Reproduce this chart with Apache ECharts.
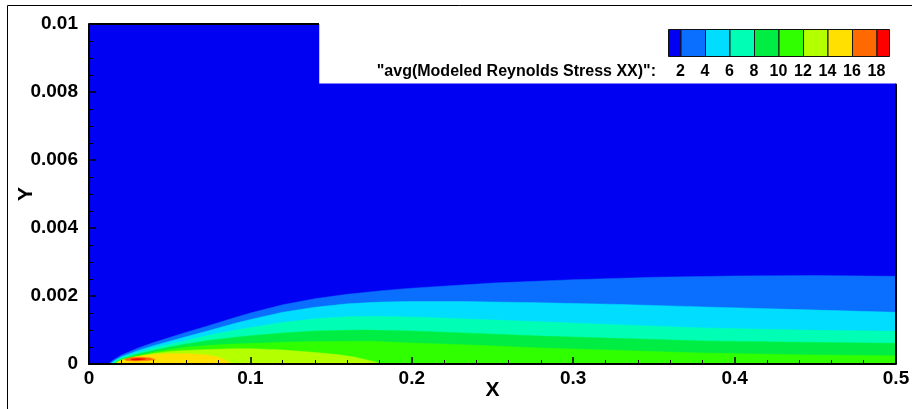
<!DOCTYPE html>
<html>
<head>
<meta charset="utf-8">
<script src="https://cdn.jsdelivr.net/npm/echarts@6/dist/echarts.min.js"></script>
<style>
  html, body { margin: 0; padding: 0; background: #fff; }
  #chart { width: 912px; height: 409px; }
</style>
</head>
<body>
<div id="chart"></div>
<script>
// contour levels and the fill colour of each band (below 2 ... above 18)
const levels = [2, 4, 6, 8, 10, 12, 14, 16, 18];
const bandColors = ['#0000f2', '#0a6eff', '#00ddff', '#00ffb4', '#00ee44', '#30ff00', '#b4ff00', '#ffe000', '#ff6a00', '#ff0000'];

// flow domain (step at the top)
const domain = [[0, 0], [0, 0.01], [0.1425, 0.01], [0.1425, 0.00824], [0.5, 0.00824], [0.5, 0]];

// upper edge of each contour region (x, y)
const edge2 = [[0.012, 0], [0.015, 0.00012], [0.02, 0.00026], [0.03, 0.00046], [0.04, 0.00063], [0.05, 0.00078], [0.06, 0.00093], [0.075, 0.00114], [0.09, 0.00136], [0.1, 0.0015], [0.12, 0.00174], [0.14, 0.00192], [0.16, 0.00205], [0.18, 0.00215], [0.2, 0.00223], [0.25, 0.00238], [0.3, 0.00248], [0.35, 0.00255], [0.4, 0.00259], [0.45, 0.0026], [0.5, 0.00258]];
const edge4 = [[0.013, 0], [0.016, 0.0001], [0.02, 0.00021], [0.03, 0.00039], [0.04, 0.00054], [0.05, 0.00067], [0.06, 0.0008], [0.075, 0.00099], [0.09, 0.00119], [0.1, 0.00131], [0.12, 0.00152], [0.14, 0.00167], [0.16, 0.00177], [0.18, 0.00182], [0.2, 0.00184], [0.23, 0.00184], [0.28, 0.0018], [0.33, 0.00175], [0.38, 0.00168], [0.44, 0.0016], [0.5, 0.00152]];
const edge6 = [[0.014, 0], [0.017, 0.0001], [0.02, 0.00018], [0.03, 0.00034], [0.04, 0.00047], [0.05, 0.00058], [0.06, 0.00069], [0.075, 0.00085], [0.09, 0.00099], [0.1, 0.00107], [0.12, 0.00122], [0.14, 0.00133], [0.16, 0.00139], [0.18, 0.0014], [0.2, 0.00138], [0.23, 0.00133], [0.28, 0.00124], [0.33, 0.00115], [0.38, 0.00106], [0.44, 0.001], [0.5, 0.00096]];
const edge8 = [[0.015, 0], [0.018, 0.0001], [0.02, 0.00015], [0.03, 0.00029], [0.04, 0.0004], [0.05, 0.0005], [0.06, 0.00059], [0.075, 0.0007], [0.09, 0.00078], [0.1, 0.00083], [0.12, 0.00091], [0.14, 0.00097], [0.17, 0.001], [0.2, 0.00097], [0.24, 0.0009], [0.28, 0.00082], [0.33, 0.00075], [0.38, 0.00068], [0.44, 0.00064], [0.5, 0.00061]];
const edge10 = [[0.015, 0], [0.018, 0.00008], [0.02, 0.00013], [0.03, 0.00025], [0.04, 0.00035], [0.05, 0.00043], [0.06, 0.00049], [0.075, 0.00055], [0.09, 0.00059], [0.1, 0.0006], [0.12, 0.00064], [0.14, 0.00066], [0.175, 0.00067], [0.2, 0.00062], [0.24, 0.00055], [0.28, 0.00047], [0.33, 0.0004], [0.38, 0.00032], [0.44, 0.00027], [0.5, 0.00024]];
const edge12 = [[0.016, 0], [0.02, 0.00011], [0.03, 0.00022], [0.04, 0.00031], [0.05, 0.00037], [0.06, 0.0004], [0.075, 0.00043], [0.09, 0.00045], [0.1, 0.00045], [0.12, 0.00041], [0.14, 0.00034], [0.155, 0.00027], [0.165, 0.0002], [0.172, 0.00012], [0.178, 0.00005], [0.181, 0]];
const edge14 = [[0.016, 0], [0.018, 0.00006], [0.02, 0.0001], [0.025, 0.00017], [0.03, 0.00022], [0.04, 0.00028], [0.05, 0.0003], [0.06, 0.0003], [0.07, 0.00028], [0.078, 0.00023], [0.083, 0.00015], [0.086, 0.00007], [0.088, 0]];
// closed islands
const island16 = [[0.022, 0.00014], [0.026, 0.00019], [0.032, 0.0002], [0.038, 0.00018], [0.041, 0.00013], [0.036, 0.0001], [0.028, 0.00009], [0.023, 0.0001]];
const island18 = [[0.026, 0.00014], [0.03, 0.00016], [0.035, 0.00015], [0.031, 0.00012], [0.027, 0.00012]];

const closeToWall = e => e.concat([[e[e.length - 1][0], 0]]);
const regions = [
  { pts: domain, color: bandColors[0] },
  { pts: closeToWall(edge2), color: bandColors[1] },
  { pts: closeToWall(edge4), color: bandColors[2] },
  { pts: closeToWall(edge6), color: bandColors[3] },
  { pts: closeToWall(edge8), color: bandColors[4] },
  { pts: closeToWall(edge10), color: bandColors[5] },
  { pts: edge12, color: bandColors[6] },
  { pts: edge14, color: bandColors[7] },
  { pts: island16, color: bandColors[8] },
  { pts: island18, color: bandColors[9] }
];

const font = '"Liberation Sans", Arial, Helvetica, sans-serif';

const regionSeries = regions.map(r => ({
  type: 'custom',
  silent: true,
  data: r.pts,
  clip: true,
  renderItem: (params, api) => {
    if (params.dataIndex !== 0) return null;
    return {
      type: 'polygon',
      shape: { points: r.pts.map(p => api.coord(p)) },
      style: { fill: r.color, stroke: r.color, lineWidth: 0.5 }
    };
  }
}));

const borderStyle = { color: '#000', width: 2 };
const borderSeries = [
  [[0, 0.01], [0.1425, 0.01]],
  [[0.5, 0.00824], [0.5, 0]]
].map(d => ({
  type: 'line', data: d, symbol: 'none', silent: true, zlevel: 1,
  lineStyle: borderStyle
}));

// colour bar
const barLeft = 668, barTop = 29, barH = 27, endW = 12.5, midW = 24.5;
const edges = [barLeft];
for (let i = 0; i < 9; i++) edges.push(barLeft + endW + i * midW);
edges.push(edges[9] + endW);
const barGraphics = [];
for (let i = 0; i < 10; i++) {
  barGraphics.push({
    type: 'rect',
    shape: { x: edges[i] + 0.5, y: barTop + 0.5, width: edges[i + 1] - edges[i], height: barH },
    style: { fill: bandColors[i], stroke: '#111', lineWidth: 1 }
  });
}
levels.forEach((lv, i) => {
  barGraphics.push({
    type: 'text',
    x: edges[i + 1], y: 72,
    style: { text: String(lv), font: 'bold 16px ' + font, fill: '#000', align: 'center', verticalAlign: 'middle' }
  });
});
barGraphics.push({
  type: 'text',
  x: 656, y: 72,
  style: { text: '"avg(Modeled Reynolds Stress XX)":', font: 'bold 16px ' + font, fill: '#000', align: 'right', verticalAlign: 'middle' }
});
// outer frame
barGraphics.push({
  type: 'polyline',
  shape: { points: [[7.5, 420], [7.5, 5.5], [912, 5.5]] },
  style: { stroke: '#000', lineWidth: 1, fill: null }
});

const tickStyle = { color: '#000', width: 1.5 };
const minorStyle = { color: '#000', width: 1 };

const chart = echarts.init(document.getElementById('chart'));
chart.setOption({
  animation: false,
  backgroundColor: '#fff',
  grid: { left: 89, right: 16, top: 24, bottom: 45, containLabel: false, outerBoundsMode: 'none' },
  xAxis: {
    type: 'value', min: 0, max: 0.5, interval: 0.1, zlevel: 1,
    name: 'X', nameLocation: 'middle', nameGap: 16, nameMoveOverlap: false,
    nameTextStyle: { fontFamily: font, fontWeight: 'bold', fontSize: 21, color: '#000' },
    axisLine: { onZero: false, lineStyle: { color: '#000', width: 2 } },
    axisTick: { show: true, inside: true, length: 7, lineStyle: tickStyle },
    minorTick: { show: true, splitNumber: 5, length: 4, lineStyle: minorStyle },
    splitLine: { show: false },
    axisLabel: {
      margin: 5, fontFamily: font, fontWeight: 'bold', fontSize: 19, color: '#000',
      formatter: v => String(+v.toFixed(1))
    }
  },
  yAxis: {
    type: 'value', min: 0, max: 0.01, interval: 0.002, zlevel: 1,
    name: 'Y', nameLocation: 'middle', nameGap: 52, nameRotate: 90, nameMoveOverlap: false,
    nameTextStyle: { fontFamily: font, fontWeight: 'bold', fontSize: 21, color: '#000' },
    axisLine: { onZero: false, lineStyle: { color: '#000', width: 2 } },
    axisTick: { show: true, inside: true, length: 7, lineStyle: tickStyle },
    minorTick: { show: true, splitNumber: 4, length: 4, lineStyle: minorStyle },
    splitLine: { show: false },
    axisLabel: {
      margin: 11, fontFamily: font, fontWeight: 'bold', fontSize: 19, color: '#000',
      formatter: v => v === 0 ? '0' : String(+v.toFixed(3))
    }
  },
  series: regionSeries.concat(borderSeries),
  graphic: barGraphics
});
</script>
</body>
</html>
